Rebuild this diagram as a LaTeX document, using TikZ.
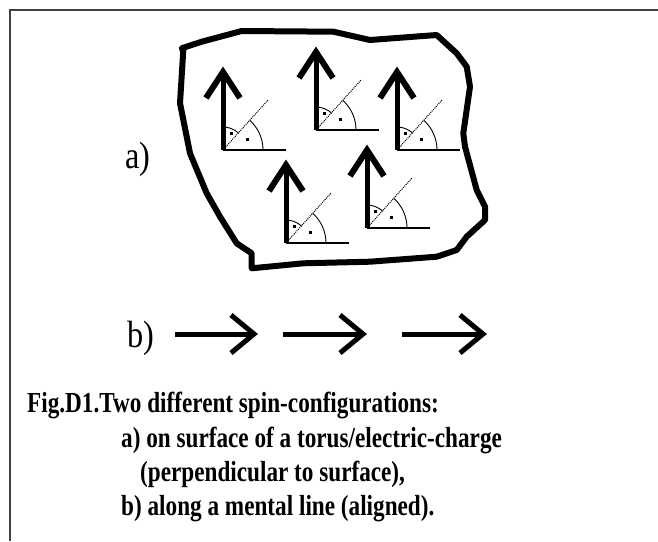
\documentclass[tikz,border=0pt]{standalone}
\usepackage{fontspec}
\setmainfont{Liberation Serif}
\newfontfamily\capfont[FakeStretch=0.8]{Liberation Serif}
\newfontfamily\lblfont[FakeStretch=0.85]{Liberation Serif}
\begin{document}
\begin{tikzpicture}[x=1pt,y=-1pt,
  framec/.style={line width=2.5, draw=black!75},
  blob/.style={line width=6, line join=round},
  spinstem/.style={line width=5},
  spinhead/.style={line width=6, line join=miter},
  thinline/.style={line width=1.3},
  arcline/.style={line width=0.9},
  diag/.style={line width=1, densely dotted},
  lbl/.style={font=\lblfont\fontsize{38}{38}\selectfont, inner sep=0, anchor=base west},
  captxt/.style={font=\capfont\bfseries\fontsize{29}{29}\selectfont, inner sep=0, anchor=base west},
  harrow/.style={line width=5},
  spinpic/.pic={
    \draw[spinstem] (0,0) -- (0,-79);
    \draw[spinhead] (-17,-52) -- (0,-78) -- (17,-52);
    \draw[thinline] (0,0) -- (63,0);
    \draw[diag] (0,0) -- (45,-50);
    \draw[arcline] (0,-23) arc[start angle=-90, end angle=-48, radius=23];
    \draw[arcline] (-48:40) arc[start angle=-48, end angle=0, radius=40];
    \fill (7,-18) rectangle (10,-15);
    \fill (23,-12) rectangle (26,-9);
  }]
\useasboundingbox (0,0) rectangle (658,541);
\fill[white] (0,0) rectangle (658,541);
% frame
\draw[framec] (10,541) -- (10,10) -- (658,10);
% blob
\draw[blob] (181.7,48.3) -- (201.7,41.7) -- (241.7,31) -- (333.3,31.7) -- (370,40)
  -- (436.7,35) -- (456.7,53.3) -- (466.7,66.7) -- (470,86.7) -- (463.3,133.3)
  -- (465,146.7) -- (476.7,190) -- (485,206.7) -- (485,220) -- (466.7,236.7)
  -- (456.7,250) -- (436.7,256.7) -- (370,261.7) -- (303.3,263.3) -- (251.7,268.3)
  -- (251.7,253.3) -- (236.7,243.3) -- (220,216.7) -- (206.7,193.3) -- (190,153.3)
  -- (180,103.3) -- (183.3,50) -- cycle;
% spins
\pic at (223,150) {spinpic};
\pic at (316,130) {spinpic};
\pic at (397,150) {spinpic};
\pic at (286,243) {spinpic};
\pic at (367,228) {spinpic};
% labels
\node[lbl] (la) at (125,168) {a)};
\node[lbl] (lb) at (127,347) {b)};
% horizontal arrows
\coordinate (a1s) at (175,334); \coordinate (a1e) at (254,334);
\coordinate (a2s) at (283,334); \coordinate (a2e) at (363,334);
\coordinate (a3s) at (402,334); \coordinate (a3e) at (483,334);
\foreach \s/\e in {a1s/a1e, a2s/a2e, a3s/a3e}{
  \draw[harrow] (\s) -- (\e);
  \draw[harrow, line join=miter] ([shift={(-23,-19)}]\e) -- (\e) -- ([shift={(-23,19)}]\e);
}
% caption
\node[captxt] (c1) at (27,412) {Fig.D1.Two different spin-configurations:};
\node[captxt] (c2) at (121,447) {a) on surface of a torus/electric-charge};
\node[captxt] (c3) at (140,481) {(perpendicular to surface),};
\node[captxt] (c4) at (121,515) {b) along a mental line (aligned).};
\end{tikzpicture}
\end{document}
